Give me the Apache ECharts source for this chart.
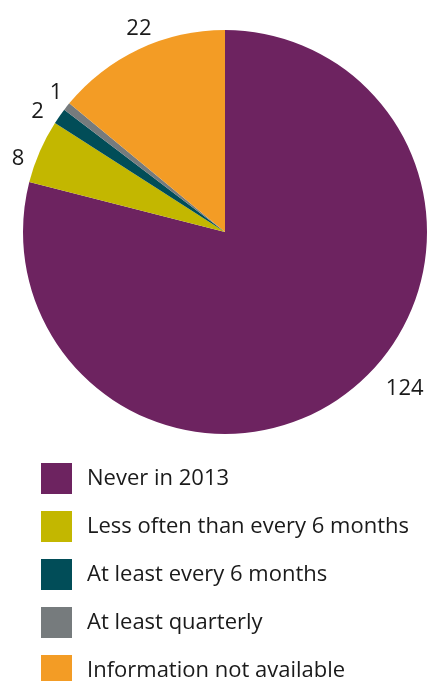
<!DOCTYPE html>
<html><head><meta charset="utf-8">
<script src="https://cdn.jsdelivr.net/npm/echarts@6/dist/echarts.min.js"></script>
<style>html,body{margin:0;padding:0;background:#fff}#c{width:427px;height:681px}</style>
</head><body><div id="c"></div>
<script>
const categories = ["Never in 2013", "Less often than every 6 months", "At least every 6 months", "At least quarterly", "Information not available"];
const values = [124, 8, 2, 1, 22];
const colors = ["#6D2360", "#C3B700", "#014D58", "#767B7D", "#F39C25"];
const labelShift = [[27, -9], [-3, 10], [-4, 0], [7, -9], [21, -13]];

const chart = echarts.init(document.getElementById('c'));
chart.setOption({
  animation: false,
  color: colors,
  legend: {
    orient: 'vertical', left: 41, top: 463, height: 240, padding: 0,
    itemWidth: 31, itemHeight: 31, itemGap: 17,
    icon: 'rect',
    textStyle: { fontFamily: 'Open Sans', fontSize: 22, color: '#1a1a1a', padding: [0, 0, 0, 10] },
    data: categories
  },
  series: [{
    type: 'pie',
    center: [225, 232], radius: 202,
    startAngle: 90, clockwise: true,
    avoidLabelOverlap: false,
    label: { show: true, position: 'outside', formatter: '{c}', fontFamily: 'Open Sans', fontSize: 22, color: '#1a1a1a' },
    labelLine: { show: false, length: 8, length2: 0 },
    labelLayout: function (p) { const s = labelShift[p.dataIndex]; return { dx: s[0], dy: s[1] }; },
    itemStyle: { borderWidth: 0 },
    data: categories.map((n, i) => ({ name: n, value: values[i] }))
  }]
});
</script></body></html>
